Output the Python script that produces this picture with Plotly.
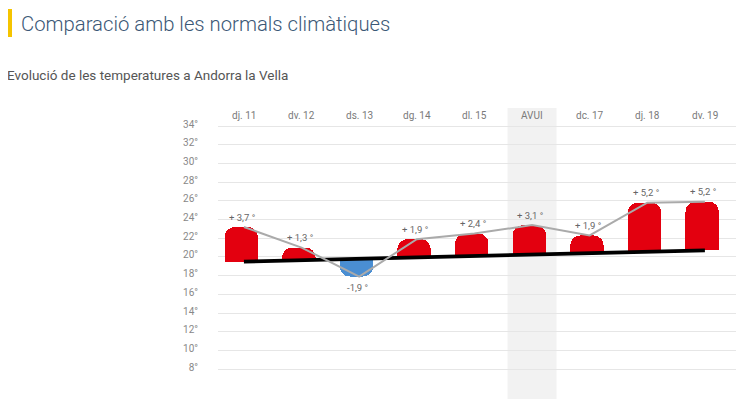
import plotly.graph_objects as go

# ---- data ----
days = ["dj. 11", "dv. 12", "ds. 13", "dg. 14", "dl. 15", "AVUI", "dc. 17", "dj. 18", "dv. 19"]
anomalies = [3.7, 1.3, -1.9, 1.9, 2.4, 3.1, 1.9, 5.2, 5.2]
normals = [19.5, 19.7, 19.8, 20.0, 20.1, 20.3, 20.4, 20.6, 20.7]
anomaly_labels = ["+ 3,7 °", "+ 1,3 °", "-1,9 °", "+ 1,9 °", "+ 2,4 °", "+ 3,1 °", "+ 1,9 °", "+ 5,2 °", "+ 5,2 °"]
ytick_vals = [8, 10, 12, 14, 16, 18, 20, 22, 24, 26, 28, 30, 32, 34]
ytick_text = [f"{v}°" for v in ytick_vals]
today_label = "AVUI"

title_text = "Comparació amb les normals climàtiques"
subtitle_text = "Evolució de les temperatures a Andorra la Vella"

# ---- geometry (page pixels; the page body adds an 8px offset) ----
OFF = 8
W, H = 756 - OFF, 399 - OFF
ML, MR, MT, MB = 218 - OFF, 20, 108 - OFF, 0
PW, PH = W - ML - MR, H - MT - MB
def px(x):
    return (x - OFF - ML) / PW
def py(y):
    return (H - MB - (y - OFF)) / PH

xs = list(range(len(days)))
actual = [n + a for n, a in zip(normals, anomalies)]
bar_colors = ["#e3000f" if a >= 0 else "#4a8ed2" for a in anomalies]

FONT = "Roboto, Open Sans, sans-serif"

fig = go.Figure()

# invisible stack base up to the climate normal
fig.add_trace(go.Bar(
    x=xs, y=normals, width=0.58, offset=-0.337,
    marker=dict(color="rgba(0,0,0,0)", line=dict(width=0)),
    hoverinfo="skip", showlegend=False,
))
# anomaly bars on top of the normals
fig.add_trace(go.Bar(
    x=xs, y=anomalies, width=0.58, offset=-0.337,
    marker=dict(color=bar_colors, line=dict(width=0), cornerradius=10),
    hoverinfo="skip", showlegend=False,
))
fig.add_trace(go.Scatter(
    x=[xs[0], xs[-1]], y=[normals[0], normals[-1]], mode="lines",
    line=dict(color="#000000", width=3.8), hoverinfo="skip", showlegend=False,
))
fig.add_trace(go.Scatter(
    x=xs, y=actual, mode="lines",
    line=dict(color="#aaaaaa", width=2), hoverinfo="skip", showlegend=False,
))

ti = days.index(today_label)
fig.add_shape(type="rect", xref="x", yref="paper", x0=ti - 0.425, x1=ti + 0.425,
              y0=0, y1=1, fillcolor="#f2f2f2", line=dict(width=0), layer="below")

# yellow accent bar next to title
fig.add_shape(type="rect", xref="paper", yref="paper", x0=px(7), x1=px(12),
              y0=py(37), y1=py(9), fillcolor="#f5c400", line=dict(width=0))

annotations = []
for i, d in enumerate(days):
    annotations.append(dict(x=i, xref="x", y=py(115), yref="paper", text=d,
                            showarrow=False, xanchor="center", yanchor="middle",
                            font=dict(family=FONT, size=10, color="#7a7a7a")))
for i, (v, a, t) in enumerate(zip(actual, anomalies, anomaly_labels)):
    annotations.append(dict(x=i - 0.03, xref="x", y=v, yref="y", text=t,
                            showarrow=False, xanchor="center", yanchor="middle",
                            yshift=10 if a >= 0 else -11,
                            font=dict(family=FONT, size=9.5, color="#666666")))
annotations.append(dict(x=px(19), y=py(24), xref="paper", yref="paper", text=title_text,
                        showarrow=False, xanchor="left", yanchor="middle",
                        font=dict(family=FONT, size=20.3, weight=300, color="#3b5876")))
annotations.append(dict(x=px(5), y=py(75), xref="paper", yref="paper", text=subtitle_text,
                        showarrow=False, xanchor="left", yanchor="middle",
                        font=dict(family=FONT, size=13.5, color="#555555")))

fig.update_layout(
    width=W, height=H,
    margin=dict(l=ML, r=MR, t=MT, b=MB),
    paper_bgcolor="white", plot_bgcolor="white",
    annotations=annotations,
    barmode="stack",
    xaxis=dict(range=[-0.45, 8.54], showgrid=False, zeroline=False,
               showticklabels=False, showline=False, fixedrange=True),
    yaxis=dict(range=[4.8, 35.93], tickvals=ytick_vals, ticktext=ytick_text,
               showgrid=True, gridcolor="#e6e6e6", gridwidth=1, zeroline=False,
               showline=False, ticks="", ticklabelstandoff=19, ticklabelshift=-2,
               tickfont=dict(family=FONT, size=10, color="#888888"), fixedrange=True),
)

fig.write_html("out.html")
